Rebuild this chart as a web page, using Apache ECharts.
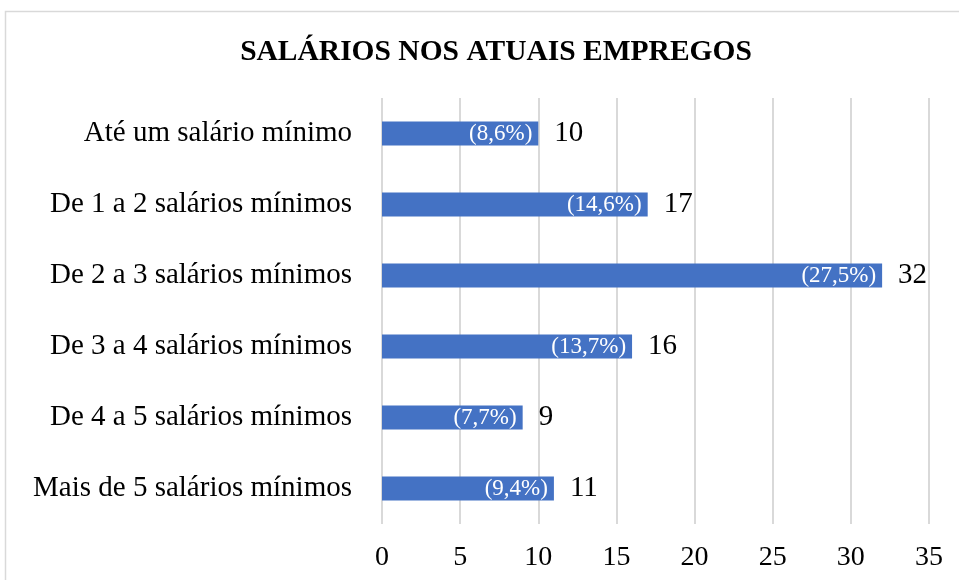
<!DOCTYPE html>
<html>
<head>
<meta charset="utf-8">
<script src="https://cdn.jsdelivr.net/npm/echarts@6/dist/echarts.min.js"></script>
<style>
  html, body { margin: 0; padding: 0; background: #fff; }
  #chart { width: 959px; height: 580px; }
</style>
</head>
<body>
<div id="chart"></div>
<script>
// categories top -> bottom as in the picture
const categories = [
  "Até um salário mínimo",
  "De 1 a 2 salários mínimos",
  "De 2 a 3 salários mínimos",
  "De 3 a 4 salários mínimos",
  "De 4 a 5 salários mínimos",
  "Mais de 5 salários mínimos"
];
const counts = [10, 17, 32, 16, 9, 11];
const percents = ["8,6%", "14,6%", "27,5%", "13,7%", "7,7%", "9,4%"];

const serif = "'Liberation Serif', 'Times New Roman', serif";

const chart = echarts.init(document.getElementById("chart"));
chart.setOption({
  backgroundColor: "#fff",
  animation: false,
  graphic: [{
    type: "rect",
    shape: { x: 5.5, y: 11.5, width: 970, height: 600 },
    style: { fill: "none", stroke: "#d9d9d9", lineWidth: 1.5 },
    silent: true
  }],
  title: {
    text: "SALÁRIOS NOS ATUAIS EMPREGOS",
    left: 491,
    textAlign: "center",
    top: 32,
    textStyle: { fontFamily: serif, fontSize: 29.5, fontWeight: "bold", color: "#000" }
  },
  grid: { left: 382, right: 30, top: 98, bottom: 56 },
  xAxis: {
    type: "value",
    min: 0,
    max: 35,
    interval: 5,
    axisLine: { show: false },
    axisTick: { show: false },
    axisLabel: { margin: 20, fontFamily: serif, fontSize: 28, color: "#000" },
    splitLine: { lineStyle: { color: "#d9d9d9", width: 2 } }
  },
  yAxis: {
    type: "category",
    data: categories,
    inverse: true,
    axisLine: { show: false },
    axisTick: { show: false },
    axisLabel: { margin: 30, fontFamily: serif, fontSize: 29, color: "#000" }
  },
  series: [
    {
      type: "bar",
      data: counts,
      barWidth: "34%",
      itemStyle: { color: "#4472c4" },
      label: {
        show: true,
        position: "insideRight",
        distance: 6,
        color: "#fff",
        fontFamily: serif,
        fontSize: 23,
        formatter: p => "(" + percents[p.dataIndex] + ")"
      },
      z: 3
    },
    {
      type: "bar",
      data: counts,
      barWidth: "34%",
      barGap: "-100%",
      itemStyle: { color: "rgba(0,0,0,0)" },
      label: {
        show: true,
        position: "right",
        distance: 16,
        color: "#000",
        fontFamily: serif,
        fontSize: 29
      },
      z: 4
    }
  ]
});
</script>
</body>
</html>
